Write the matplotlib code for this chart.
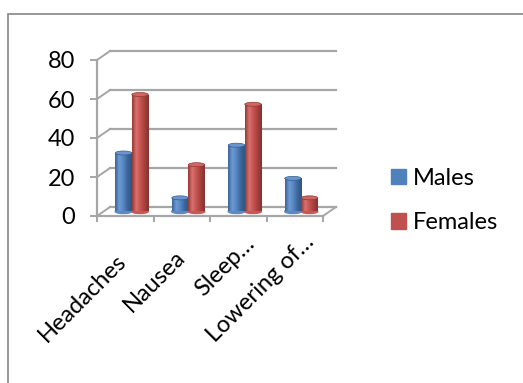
import numpy as np
import matplotlib
matplotlib.use("Agg")
import matplotlib.pyplot as plt
from matplotlib.colors import LinearSegmentedColormap
from matplotlib.patches import Ellipse, Rectangle, Patch

plt.rcParams['font.family'] = ['Lato', 'DejaVu Sans']

categories = ["Headaches", "Nausea", "Sleep…", "Lowering of…"]
males = [30, 7, 34, 17]
females = [60, 24, 55, 7]
yticks = [0, 20, 40, 60, 80]

W, H, DPI = 523, 383, 100
FS = 17
fig = plt.figure(figsize=(W / DPI, H / DPI), dpi=DPI)

# outer chart frame (only top and left edges are visible)
fig.patches.append(Rectangle((8 / W, -0.1), 1.2, (H - 14) / H + 0.1,
                             transform=fig.transFigure, fill=False,
                             edgecolor="#868686", lw=1.2))

# front plane of the 3d plot
x0, x1, y0, y1 = 97, 323, 216, 60
ax = fig.add_axes([x0 / W, (H - y0) / H, (x1 - x0) / W, (y0 - y1) / H])
n = len(categories)
ax.set_xlim(0, n)
ax.set_ylim(0, 80)

px_x = (x1 - x0) / n
px_y = (y0 - y1) / 80
dx = 13 / px_x     # depth offset in data units
dy = 9 / px_y

grid_c = "#a6a6a6"
for v in yticks:
    ax.plot([dx, n + dx], [v + dy, v + dy], color=grid_c, lw=1.6, clip_on=False, zorder=1)
    ax.plot([0, dx], [v, v + dy], color=grid_c, lw=1.4, clip_on=False, zorder=1)
ax.plot([n, n + dx], [0, dy], color=grid_c, lw=1.4, clip_on=False, zorder=1)

for side in ["top", "right"]:
    ax.spines[side].set_visible(False)
for side in ["left", "bottom"]:
    ax.spines[side].set_color(grid_c)
    ax.spines[side].set_linewidth(1.6)

ax.set_yticks(yticks)
ax.tick_params(axis="y", length=5, width=1.4, color=grid_c, pad=11,
               labelsize=FS)
ax.set_xticks(np.arange(n + 1))
ax.set_xticklabels([])
ax.tick_params(axis="x", length=4.5, width=1.4, color=grid_c)

# cylinders sit half way back on the floor
w = 16.5 / px_x
centers = np.arange(n) + 0.5 + dx / 2
base = dy / 2
cap_h = 4 / px_y

blue_map = LinearSegmentedColormap.from_list(
    "b", ["#3a6497", "#6e9bd4", "#5585c2", "#3b6699", "#2f5585"])
red_map = LinearSegmentedColormap.from_list(
    "r", ["#963835", "#d8726f", "#c5524f", "#a5403d", "#873130"])
grad = np.linspace(0, 1, 64).reshape(1, -1)

def cylinders(xpos, vals, color, cmap, cap_c, label):
    bars = ax.bar(xpos, vals, w, bottom=base, color=color, label=label,
                  zorder=3, clip_on=False)
    for b in bars:
        bx, by = b.get_x(), b.get_y()
        bw, bh = b.get_width(), b.get_height()
        im = ax.imshow(grad, extent=[bx, bx + bw, by - cap_h / 2, by + bh],
                       aspect="auto", cmap=cmap, zorder=3.1, origin="lower")
        im.set_clip_path(b)
        ax.add_patch(Ellipse((bx + bw / 2, by), bw, cap_h, color=cmap(0.45),
                             zorder=3.05, clip_on=False))
        ax.add_patch(Ellipse((bx + bw / 2, by + bh), bw, cap_h, facecolor=cap_c,
                             edgecolor=cmap(0.9), lw=0.5, zorder=3.2,
                             clip_on=False))
    return bars

cylinders(centers - w / 2, males, "#4f81bd", blue_map, "#6a96cf", "Males")
cylinders(centers + w / 2, females, "#c0504d", red_map, "#d06663", "Females")
ax.set_xlim(0, n)
ax.set_ylim(0, 80)

# rotated category labels, baseline end placed below each slot
label_ends = [(2, -46), (5, -42), (18, -29), (20, -27)]
for c, lab, off in zip(np.arange(n) + 0.5, categories, label_ends):
    ax.annotate(lab, xy=(c, 0), xytext=off, textcoords="offset pixels",
                rotation=45, rotation_mode="anchor", ha="right", va="baseline",
                fontsize=FS, annotation_clip=False)

handles = [Patch(color="#4f81bd"), Patch(color="#c0504d")]
fig.legend(handles, ["Males", "Females"], loc="center left",
           bbox_to_anchor=(391 / W, (H - 200.5) / H), frameon=False,
           fontsize=FS, handlelength=0.62, handleheight=0.62,
           handletextpad=0.3, labelspacing=1.0, borderpad=0,
           borderaxespad=0)

fig.savefig("out.png", dpi=DPI)
